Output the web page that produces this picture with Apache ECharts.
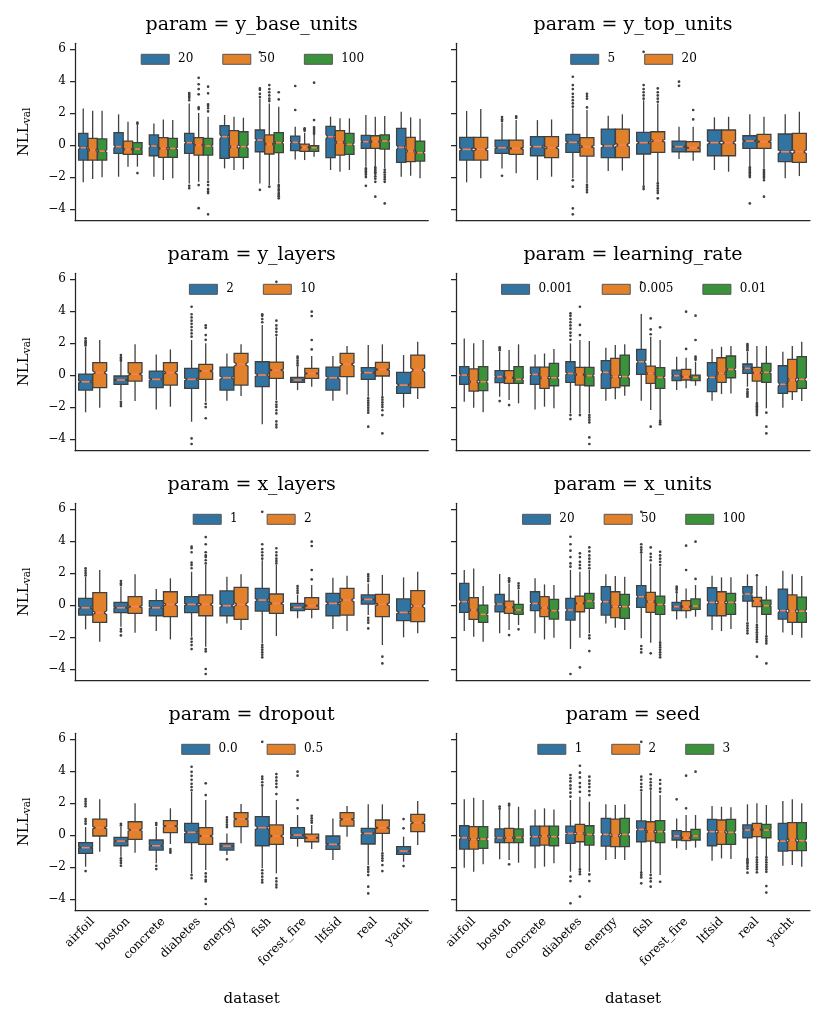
<!DOCTYPE html>
<html lang="en">
<head>
<meta charset="UTF-8">
<title>NLL by param</title>
<style>body{margin:0;background:#fff;} #main{width:831px;height:1027px;}</style>
</head>
<body>
<div id="main"></div>
<script src="https://cdn.jsdelivr.net/npm/echarts@6/dist/echarts.min.js"></script>
<script>
// ---- data (box = [min, q1, median, q3, max], flier = [datasetIndex, value]) ----
const datasets = ['airfoil', 'boston', 'concrete', 'diabetes', 'energy', 'fish', 'forest_fire', 'ltfsid', 'real', 'yacht'];
const yTicks = [-4, -2, 0, 2, 4, 6];
const params = ['y_base_units', 'y_top_units', 'y_layers', 'learning_rate', 'x_layers', 'x_units', 'dropout', 'seed'];

const yBaseUnitsGroups = ['20', '50', '100'];
const yBaseUnits20 = [[-2.33,-0.94,-0.17,0.73,2.29],[-1.98,-0.52,-0.1,0.77,1.92],[-1.98,-0.67,-0.06,0.63,1.35],[-2.4,-0.52,0.15,0.73,2.6],[-1.46,-0.83,0.52,1.21,1.88],[-2.4,-0.42,0.31,0.94,2.9],[-0.9,-0.35,0.17,0.56,1.15],[-1.56,-0.79,0.52,1.17,1.77],[-1.35,-0.21,0.21,0.6,1.88],[-1.98,-1.08,-0.15,1.04,2.08]];
const yBaseUnits50 = [[-2.13,-0.94,-0.31,0.42,2.15],[-1.35,-0.58,-0.27,0.25,1.46],[-2.19,-0.77,-0.21,0.46,1.6],[-2.3,-0.63,0.0,0.46,2.0],[-1.56,-0.77,-0.1,0.9,1.77],[-2.5,-0.56,0.06,0.63,2.6],[-0.94,-0.4,-0.15,0.06,0.77],[-1.67,-0.63,0.17,0.9,1.67],[-1.35,-0.21,0.21,0.58,1.77],[-1.92,-1.04,-0.38,0.48,1.73]];
const yBaseUnits100 = [[-2.02,-0.94,-0.38,0.38,2.15],[-1.35,-0.58,-0.25,0.15,1.25],[-2.08,-0.77,-0.21,0.42,1.56],[-2.2,-0.63,-0.06,0.42,1.77],[-1.52,-0.77,-0.1,0.83,1.71],[-2.4,-0.48,0.15,0.77,2.4],[-0.73,-0.4,-0.17,-0.04,0.63],[-1.56,-0.58,0.04,0.73,1.67],[-1.46,-0.25,0.25,0.63,1.81],[-2.08,-1.0,-0.48,0.25,1.65]];
const yBaseUnits20Out = [[3,2.8],[3,2.95],[3,3.05],[3,3.15],[3,3.25],[3,-2.55],[3,-2.7],[5,3.0],[5,3.2],[5,3.45],[5,3.55],[5,5.8],[5,-2.8],[6,2.19],[6,3.69],[8,-1.46],[8,-1.55],[8,-1.65],[8,-1.75],[8,-1.85],[8,-2.0],[8,-2.55]];
const yBaseUnits50Out = [[3,2.25],[3,2.35],[3,3.17],[3,3.5],[3,3.8],[3,4.2],[3,-2.5],[3,-3.95],[5,2.75],[5,2.9],[5,3.1],[5,3.3],[5,3.5],[5,3.75],[5,-2.6],[6,0.9],[6,0.98],[6,1.05],[8,-1.4],[8,-1.5],[8,-1.6],[8,-1.7],[8,-1.8],[8,-1.95],[8,-2.1],[8,-2.3],[8,-3.23]];
const yBaseUnits100Out = [[1,1.33],[1,1.4],[1,-1.75],[3,2.1],[3,2.3],[3,2.45],[3,2.55],[3,3.23],[3,3.65],[3,-2.3],[3,-2.5],[3,-2.75],[3,-2.9],[3,-3.0],[3,-4.33],[5,2.85],[5,3.3],[5,-2.5],[5,-2.6],[5,-2.75],[5,-2.85],[5,-3.0],[5,-3.1],[5,-3.2],[5,-3.33],[6,0.7],[6,0.8],[6,0.9],[6,1.0],[6,1.1],[6,1.56],[6,3.9],[8,-1.55],[8,-1.7],[8,-1.85],[8,-2.0],[8,-2.15],[8,-2.3],[8,-3.65]];

const yTopUnitsGroups = ['5', '20'];
const yTopUnits5 = [[-2.33,-0.94,-0.27,0.48,2.13],[-1.46,-0.52,-0.17,0.31,1.4],[-2.19,-0.67,-0.1,0.52,1.56],[-2.08,-0.46,0.17,0.67,2.29],[-1.63,-0.79,-0.06,1.0,1.83],[-2.54,-0.56,0.15,0.79,2.8],[-0.88,-0.42,-0.1,0.25,1.15],[-1.56,-0.67,0.15,0.94,1.73],[-1.35,-0.21,0.25,0.58,1.92],[-2.08,-1.04,-0.42,0.69,1.92]];
const yTopUnits20 = [[-2.08,-0.94,-0.27,0.48,2.25],[-1.77,-0.58,-0.21,0.31,1.56],[-1.98,-0.79,-0.17,0.52,1.6],[-2.4,-0.69,-0.1,0.46,2.19],[-1.6,-0.79,0.0,1.0,1.92],[-2.4,-0.46,0.27,0.83,2.6],[-0.98,-0.42,-0.17,0.21,1.15],[-1.67,-0.67,0.15,0.94,1.77],[-1.46,-0.21,0.21,0.67,1.77],[-1.94,-1.08,-0.42,0.73,2.08]];
const yTopUnits5Out = [[1,1.5],[1,1.6],[1,1.75],[1,-1.92],[3,2.4],[3,2.6],[3,2.8],[3,3.0],[3,3.2],[3,3.5],[3,3.75],[3,4.27],[3,-2.2],[3,-2.6],[3,-3.96],[3,-4.33],[5,2.9],[5,3.1],[5,3.3],[5,3.5],[5,3.75],[5,5.83],[5,-2.6],[5,-2.75],[6,3.7],[6,3.96],[8,-1.4],[8,-1.5],[8,-1.6],[8,-1.7],[8,-1.8],[8,-1.9],[8,-2.0],[8,-3.65]];
const yTopUnits20Out = [[1,1.7],[1,1.8],[3,2.35],[3,2.9],[3,3.05],[3,3.2],[3,-2.5],[3,-2.65],[3,-2.8],[3,-2.95],[5,2.7],[5,2.9],[5,3.1],[5,3.3],[5,3.54],[5,-2.4],[5,-2.55],[5,-2.7],[5,-2.85],[5,-3.0],[5,-3.33],[6,1.6],[6,2.19],[8,-1.55],[8,-1.65],[8,-1.75],[8,-1.85],[8,-1.95],[8,-2.05],[8,-2.2],[8,-3.23]];

const yLayersGroups = ['2', '10'];
const yLayers2 = [[-2.33,-0.94,-0.42,0.06,1.75],[-1.56,-0.58,-0.31,-0.06,0.83],[-2.15,-0.79,-0.27,0.25,1.29],[-2.92,-0.83,-0.27,0.42,2.19],[-1.6,-0.94,-0.17,0.5,1.35],[-3.08,-0.73,0.0,0.83,3.13],[-0.94,-0.46,-0.31,-0.15,0.52],[-1.6,-0.94,-0.17,0.5,1.19],[-1.35,-0.27,0.15,0.46,1.88],[-2.04,-1.15,-0.63,0.17,1.25]];
const yLayers10 = [[-2.04,-0.79,0.15,0.77,2.19],[-1.63,-0.38,0.06,0.77,1.92],[-1.98,-0.63,0.15,0.77,1.6],[-1.67,-0.27,0.25,0.67,1.98],[-1.31,-0.63,0.67,1.35,1.92],[-1.56,-0.21,0.31,0.81,2.4],[-0.73,-0.21,0.1,0.42,1.19],[-1.21,-0.1,0.67,1.35,1.81],[-1.31,-0.06,0.35,0.79,1.92],[-1.5,-0.79,0.31,1.25,2.08]];
const yLayers2Out = [[0,1.85],[0,1.95],[0,2.05],[0,2.15],[0,2.3],[1,0.9],[1,1.0],[1,1.1],[1,1.25],[1,-1.67],[1,-1.8],[1,-1.94],[3,2.4],[3,2.6],[3,2.8],[3,3.0],[3,3.2],[3,3.4],[3,3.6],[3,3.8],[3,4.27],[3,-3.96],[3,-4.31],[5,3.3],[5,3.5],[5,3.7],[5,3.8],[6,0.6],[6,0.75],[6,0.9],[6,1.05],[6,1.15],[8,-1.45],[8,-1.6],[8,-1.75],[8,-1.9],[8,-2.05],[8,-2.2],[8,-2.35],[8,-3.23]];
const yLayers10Out = [[3,2.2],[3,2.5],[3,2.95],[3,3.1],[3,-1.8],[3,-2.0],[3,-2.7],[5,2.5],[5,2.7],[5,2.9],[5,3.1],[5,3.4],[5,5.83],[5,-1.67],[5,-1.85],[5,-2.0],[5,-2.2],[5,-2.4],[5,-2.9],[5,-3.1],[5,-3.27],[6,1.6],[6,2.19],[6,3.69],[6,3.96],[8,-1.4],[8,-1.55],[8,-1.7],[8,-1.85],[8,-2.0],[8,-2.2],[8,-2.5],[8,-3.65]];

const learningRateGroups = ['0.001', '0.005', '0.01'];
const learningRate001 = [[-1.67,-0.58,0.0,0.52,2.29],[-1.35,-0.48,-0.1,0.27,1.46],[-2.15,-0.58,0.04,0.5,1.29],[-2.4,-0.46,0.1,0.83,1.98],[-1.6,-0.83,0.17,0.9,1.71],[-1.6,0.04,0.83,1.6,3.81],[-0.94,-0.35,-0.04,0.31,1.15],[-1.6,-1.04,-0.15,0.77,1.63],[-0.73,0.1,0.42,0.69,1.46],[-2.04,-1.15,-0.58,0.58,1.46]];
const learningRate005 = [[-2.04,-1.0,-0.42,0.38,1.98],[-1.56,-0.52,-0.17,0.27,1.56],[-1.98,-0.83,-0.17,0.5,1.35],[-2.4,-0.63,0.04,0.48,2.19],[-1.52,-0.79,-0.1,1.04,1.88],[-2.19,-0.52,0.1,0.56,2.4],[-0.83,-0.31,-0.1,0.35,1.08],[-1.19,-0.46,0.1,1.08,1.77],[-1.67,-0.38,0.15,0.48,1.81],[-1.56,-1.04,-0.31,0.98,1.81]];
const learningRate01 = [[-2.33,-0.98,-0.42,0.52,2.19],[-1.77,-0.52,-0.27,0.52,1.92],[-2.08,-0.67,-0.17,0.73,1.63],[-2.4,-0.67,-0.04,0.48,2.13],[-1.29,-0.67,-0.1,1.25,1.92],[-2.77,-0.83,-0.15,0.46,2.19],[-0.67,-0.35,-0.15,0.0,0.83],[-1.15,-0.17,0.35,1.19,1.81],[-2.08,-0.46,0.17,0.73,1.81],[-1.63,-0.83,-0.27,1.15,2.08]];
const learningRate001Out = [[1,1.55],[1,1.65],[1,1.73],[1,-1.63],[3,2.2],[3,2.45],[3,2.65],[3,2.9],[3,3.1],[3,3.3],[3,3.5],[3,3.7],[3,3.85],[3,-2.5],[3,-2.75],[5,5.8],[8,1.55],[8,1.65],[8,1.75],[8,1.85],[8,1.94],[8,-0.9],[8,-1.05],[8,-1.15],[8,-1.25],[8,-1.35]];
const learningRate005Out = [[1,-1.88],[3,2.5],[3,3.13],[3,4.27],[3,-2.5],[5,2.55],[5,2.85],[5,3.54],[5,-3.23],[6,1.63],[6,3.96],[8,-1.75],[8,-1.85],[8,-1.95],[8,-2.05],[8,-2.15],[8,-2.25],[8,-2.35],[8,-2.5]];
const learningRate01Out = [[3,-2.5],[3,-2.65],[3,-2.8],[3,-2.96],[3,-3.9],[3,-4.31],[5,2.98],[5,-2.85],[5,-2.95],[5,-3.08],[6,0.95],[6,1.05],[6,1.15],[6,2.19],[6,3.71],[8,-2.35],[8,-3.23],[8,-3.65]];

const xLayersGroups = ['1', '2'];
const xLayers1 = [[-1.52,-0.63,-0.17,0.42,1.75],[-1.35,-0.48,-0.17,0.17,1.15],[-1.63,-0.67,-0.17,0.27,1.0],[-1.98,-0.48,0.04,0.52,2.08],[-1.15,-0.67,-0.04,0.88,1.77],[-2.4,-0.38,0.31,1.04,2.8],[-0.83,-0.35,-0.15,0.1,0.63],[-1.5,-0.67,0.1,0.73,1.71],[-0.63,0.06,0.35,0.63,1.35],[-2.02,-0.98,-0.46,0.38,1.73]];
const xLayers2 = [[-2.29,-1.08,-0.48,0.77,2.19],[-1.73,-0.52,-0.1,0.52,1.92],[-2.15,-0.73,0.04,0.83,1.67],[-2.6,-0.67,0.04,0.63,2.5],[-1.56,-0.9,0.04,1.1,1.92],[-1.94,-0.52,0.1,0.69,2.5],[-0.83,-0.27,-0.04,0.46,1.25],[-1.63,-0.63,0.31,1.04,1.83],[-2.5,-0.73,0.04,0.67,1.88],[-1.77,-1.04,-0.06,0.9,2.08]];
const xLayers1Out = [[0,1.85],[0,2.0],[0,2.15],[0,2.3],[1,1.25],[1,1.35],[1,1.5],[1,-1.5],[1,-1.65],[1,-1.9],[3,2.3],[3,2.5],[3,2.65],[3,3.3],[3,3.55],[3,3.65],[3,-2.1],[3,-2.3],[3,-2.5],[3,-2.75],[5,2.9],[5,3.1],[5,3.3],[5,3.5],[5,3.8],[5,5.83],[5,-2.5],[5,-2.65],[5,-2.8],[5,-2.95],[5,-3.1],[5,-3.27],[6,0.75],[6,0.9],[6,1.05],[6,1.19],[8,1.5],[8,1.65],[8,1.8],[8,1.92],[8,-0.8],[8,-0.95],[8,-1.1],[8,-1.46]];
const xLayers2Out = [[3,2.6],[3,2.8],[3,3.0],[3,3.1],[3,3.3],[3,3.8],[3,4.25],[3,-2.75],[3,-2.9],[3,-4.0],[3,-4.31],[5,2.6],[5,2.75],[5,2.9],[5,3.1],[5,3.3],[5,3.55],[6,1.6],[6,2.19],[6,3.69],[6,3.96],[8,-3.23],[8,-3.65]];

const xUnitsGroups = ['20', '50', '100'];
const xUnits20 = [[-1.63,-0.46,0.21,1.35,2.19],[-1.77,-0.42,0.06,0.67,1.94],[-1.77,-0.35,0.1,0.83,1.67],[-2.75,-0.94,-0.31,0.42,2.19],[-1.15,-0.63,0.21,1.15,1.92],[-2.08,-0.15,0.52,1.21,3.23],[-0.9,-0.35,-0.1,0.17,0.73],[-1.56,-0.67,0.17,1.08,1.83],[-1.04,0.25,0.69,1.15,1.92],[-1.71,-0.88,-0.35,1.0,2.15]];
const xUnits50 = [[-1.98,-0.9,-0.31,0.46,2.29],[-1.56,-0.52,-0.15,0.25,1.35],[-2.15,-0.73,-0.17,0.52,1.29],[-2.04,-0.42,0.1,0.56,2.08],[-1.42,-0.79,-0.1,0.83,1.81],[-2.35,-0.46,0.21,0.79,2.6],[-0.83,-0.35,-0.1,0.27,1.04],[-1.63,-0.67,0.17,0.83,1.73],[-1.15,-0.1,0.25,0.48,1.77],[-1.88,-1.08,-0.38,0.63,1.92]];
const xUnits100 = [[-2.29,-1.08,-0.58,0.0,1.19],[-1.25,-0.58,-0.31,0.04,0.95],[-2.04,-0.88,-0.35,0.35,1.25],[-1.77,-0.21,0.25,0.73,2.19],[-1.56,-0.83,-0.1,0.67,1.77],[-2.29,-0.58,0.04,0.56,2.4],[-0.73,-0.27,-0.06,0.38,1.25],[-1.5,-0.58,0.17,0.73,1.73],[-1.88,-0.58,-0.04,0.31,1.19],[-2.04,-1.08,-0.38,0.5,1.81]];
const xUnits20Out = [[3,2.4],[3,2.6],[3,3.0],[3,3.4],[3,3.8],[3,4.27],[3,-4.31],[5,3.3],[5,3.45],[5,3.6],[5,3.8],[5,5.83],[5,-2.56],[5,-2.75],[5,-2.96],[6,0.8],[6,0.95],[6,1.05],[6,1.15],[8,-1.15],[8,-1.3],[8,-1.45],[8,-1.6],[8,-1.77]];
const xUnits50Out = [[1,1.45],[1,1.55],[1,1.67],[1,-1.88],[3,2.3],[3,2.5],[3,2.7],[3,3.0],[3,3.23],[3,-3.9],[5,2.8],[5,3.0],[5,3.2],[5,3.6],[5,-3.02],[6,2.19],[6,3.71],[8,1.85],[8,-1.25],[8,-1.4],[8,-1.55],[8,-1.7],[8,-1.85],[8,-2.0],[8,-2.15],[8,-2.3],[8,-3.23]];
const xUnits100Out = [[1,1.05],[1,1.2],[1,1.35],[1,-1.52],[3,2.3],[3,2.5],[3,2.7],[3,2.9],[3,3.1],[3,3.35],[3,3.6],[3,-1.9],[3,-2.08],[3,-2.88],[5,2.5],[5,2.7],[5,2.9],[5,3.1],[5,3.33],[5,-2.35],[5,-2.5],[5,-2.65],[5,-2.8],[5,-2.95],[5,-3.1],[5,-3.27],[6,1.63],[6,3.96],[8,-1.95],[8,-2.1],[8,-2.25],[8,-2.4],[8,-3.65]];

const dropoutGroups = ['0.0', '0.5'];
const dropout00 = [[-1.98,-1.15,-0.79,-0.48,0.5],[-1.35,-0.67,-0.38,-0.15,0.5],[-1.77,-0.94,-0.67,-0.31,0.5],[-2.4,-0.48,0.17,0.73,2.7],[-1.25,-0.94,-0.69,-0.52,0.1],[-2.08,-0.67,0.46,1.15,3.02],[-0.73,-0.21,0.0,0.46,1.25],[-1.56,-0.9,-0.58,-0.06,1.04],[-1.88,-0.56,0.1,0.42,1.92],[-1.67,-1.21,-1.0,-0.73,-0.1]];
const dropout05 = [[-1.04,-0.06,0.46,1.0,2.23],[-1.1,-0.27,0.31,0.83,1.98],[-0.56,0.15,0.56,0.9,1.67],[-2.19,-0.58,-0.06,0.46,2.19],[-0.52,0.52,1.0,1.4,1.94],[-2.4,-0.58,-0.06,0.63,2.19],[-0.88,-0.42,-0.17,0.06,0.63],[-0.1,0.56,0.98,1.4,1.81],[-1.04,0.1,0.46,0.94,1.92],[-0.63,0.21,0.77,1.29,2.13]];
const dropout00Out = [[0,0.7],[0,0.85],[0,1.0],[0,1.8],[0,1.95],[0,2.1],[0,2.25],[0,-2.25],[1,0.6],[1,0.7],[1,-1.46],[1,-1.6],[1,-1.75],[1,-1.92],[2,0.62],[2,0.75],[2,-1.92],[2,-2.13],[3,2.8],[3,3.0],[3,3.2],[3,3.45],[3,3.7],[3,3.95],[3,4.27],[3,-2.5],[3,-2.7],[4,0.5],[4,0.65],[4,0.8],[4,0.95],[4,1.1],[4,-1.52],[5,3.1],[5,3.3],[5,3.5],[5,3.65],[5,5.83],[5,-2.2],[5,-2.4],[5,-2.6],[5,-2.8],[5,-2.96],[6,1.67],[6,2.19],[6,3.71],[6,3.96],[8,-2.0],[8,-2.15],[8,-2.3],[8,-2.5],[8,-3.23],[8,-3.65],[9,0.42],[9,1.0],[9,-1.94]];
const dropout05Out = [[2,-0.88],[2,-1.0],[2,-1.1],[3,2.5],[3,3.23],[3,-2.4],[3,-2.6],[3,-2.8],[3,-2.9],[3,-4.0],[3,-4.31],[5,2.56],[5,3.0],[5,3.2],[5,3.4],[5,3.6],[5,3.81],[5,-2.7],[5,-2.9],[5,-3.1],[5,-3.27],[6,0.77],[6,0.9],[6,1.05],[6,1.2],[8,-1.15],[8,-1.3],[8,-1.45],[8,-1.6],[8,-1.88],[8,-2.25]];

const seedGroups = ['1', '2', '3'];
const seed1 = [[-2.04,-0.88,-0.17,0.58,2.23],[-1.52,-0.48,-0.17,0.38,1.56],[-2.08,-0.67,-0.1,0.56,1.6],[-2.29,-0.52,0.1,0.56,2.19],[-1.56,-0.69,0.04,1.04,1.92],[-2.29,-0.42,0.35,0.88,2.7],[-0.83,-0.31,-0.06,0.27,1.04],[-1.6,-0.67,0.21,0.98,1.81],[-1.46,-0.17,0.31,0.63,1.92],[-1.92,-1.0,-0.38,0.73,2.13]];
const seed2 = [[-2.29,-0.88,-0.27,0.52,2.33],[-1.56,-0.48,-0.17,0.42,1.77],[-1.98,-0.63,-0.06,0.56,1.67],[-2.08,-0.42,0.1,0.67,2.4],[-1.5,-0.73,-0.04,1.0,1.88],[-2.4,-0.38,0.21,0.83,2.8],[-0.94,-0.35,-0.17,0.21,1.25],[-1.46,-0.58,0.21,0.94,1.77],[-1.29,-0.1,0.35,0.73,1.98],[-1.88,-0.98,-0.31,0.77,2.23]];
const seed3 = [[-1.83,-0.83,-0.25,0.52,2.19],[-1.73,-0.48,-0.15,0.38,1.77],[-1.77,-0.67,-0.1,0.56,1.6],[-2.29,-0.63,0.04,0.58,2.08],[-1.56,-0.73,0.04,1.04,1.92],[-2.5,-0.48,0.21,0.9,2.5],[-0.79,-0.31,-0.06,0.35,1.25],[-1.5,-0.58,0.17,0.98,1.73],[-1.35,-0.17,0.31,0.67,1.88],[-1.98,-0.98,-0.35,0.77,1.98]];
const seed1Out = [[1,1.65],[1,1.78],[3,2.4],[3,2.65],[3,2.9],[3,3.1],[3,3.35],[3,3.55],[3,3.75],[3,-2.6],[3,-2.88],[3,-4.27],[5,2.8],[5,3.0],[5,3.2],[5,3.45],[5,3.65],[5,5.83],[5,-2.35],[5,-2.5],[5,-2.65],[5,-3.02],[6,2.23],[8,-1.5],[8,-1.6],[8,-1.7],[8,-1.8],[8,-1.95],[8,-2.1],[8,-2.35]];
const seed2Out = [[1,1.85],[1,1.95],[1,-1.83],[3,2.7],[3,3.0],[3,3.25],[3,3.6],[3,3.9],[3,4.33],[3,-2.15],[3,-2.3],[3,-2.45],[3,-3.85],[5,2.9],[5,3.1],[5,3.3],[5,3.5],[5,3.8],[5,-2.5],[5,-2.7],[5,-2.9],[5,-3.23],[6,1.67],[6,3.71],[8,-1.4],[8,-1.55],[8,-1.7],[8,-1.85],[8,-2.0],[8,-2.15],[8,-2.33]];
const seed3Out = [[3,2.5],[3,2.75],[3,3.0],[3,3.2],[3,3.4],[3,3.65],[3,-2.46],[3,-2.88],[5,2.7],[5,2.9],[5,3.2],[5,3.44],[5,-2.92],[6,3.96],[8,-1.4],[8,-1.55],[8,-1.7],[8,-1.85],[8,-2.0],[8,-2.15],[8,-2.3],[8,-3.19],[8,-3.6]];

// ---- layout / style ----
const palette = ['#3274a1', '#e1812c', '#3a923a'];
const edgeColor = '#404040';
const medianColor = '#ff7f50';
const axisColor = '#262626';
const font = '"DejaVu Serif"';
const sampleCount = 550;   // only used for notch depth
const colLeft = [75, 456];
const colWidth = [353.3, 354];
const rowTop = [43.3, 273.3, 503.3, 733.3];
const rowHeight = 177.4;

const panels = [
    {groups: yBaseUnitsGroups, boxes: [yBaseUnits20, yBaseUnits50, yBaseUnits100], fliers: [yBaseUnits20Out, yBaseUnits50Out, yBaseUnits100Out]},
    {groups: yTopUnitsGroups, boxes: [yTopUnits5, yTopUnits20], fliers: [yTopUnits5Out, yTopUnits20Out]},
    {groups: yLayersGroups, boxes: [yLayers2, yLayers10], fliers: [yLayers2Out, yLayers10Out]},
    {groups: learningRateGroups, boxes: [learningRate001, learningRate005, learningRate01], fliers: [learningRate001Out, learningRate005Out, learningRate01Out]},
    {groups: xLayersGroups, boxes: [xLayers1, xLayers2], fliers: [xLayers1Out, xLayers2Out]},
    {groups: xUnitsGroups, boxes: [xUnits20, xUnits50, xUnits100], fliers: [xUnits20Out, xUnits50Out, xUnits100Out]},
    {groups: dropoutGroups, boxes: [dropout00, dropout05], fliers: [dropout00Out, dropout05Out]},
    {groups: seedGroups, boxes: [seed1, seed2, seed3], fliers: [seed1Out, seed2Out, seed3Out]}
];

const measureCtx = document.createElement('canvas').getContext('2d');
function textWidth(str, size) {
    measureCtx.font = size + 'px ' + font;
    return measureCtx.measureText(str).width;
}

function boxRender(n, gi) {
    return function (params, api) {
        const cat = api.value(0);
        const w = api.size([1, 0])[0] * 0.8 / n;
        const cx = api.coord([cat, 0])[0] + (gi - (n - 1) / 2) * w;
        const bw = w * 0.98;
        const y = v => api.coord([cat, v])[1];
        const mn = api.value(1), q1 = api.value(2), med = api.value(3), q3 = api.value(4), mx = api.value(5);
        const notch = 1.57 * (q3 - q1) / Math.sqrt(sampleCount);
        const l = cx - bw / 2, r = cx + bw / 2, nl = cx - bw * 0.3, nr = cx + bw * 0.3;
        const pts = [[l, y(q1)], [r, y(q1)], [r, y(med - notch)], [nr, y(med)], [r, y(med + notch)],
            [r, y(q3)], [l, y(q3)], [l, y(med + notch)], [nl, y(med)], [l, y(med - notch)]];
        const ln = {stroke: edgeColor, lineWidth: 1.3};
        return {
            type: 'group',
            children: [
                {type: 'line', shape: {x1: cx, y1: y(mn), x2: cx, y2: y(q1)}, style: ln},
                {type: 'line', shape: {x1: cx, y1: y(q3), x2: cx, y2: y(mx)}, style: ln},
                {type: 'polygon', shape: {points: pts}, style: {fill: palette[gi], stroke: edgeColor, lineWidth: 1.3}},
                {type: 'line', shape: {x1: nl, y1: y(med), x2: nr, y2: y(med)}, style: {stroke: medianColor, lineWidth: 1.6}}
            ]
        };
    };
}

function flierRender(n, gi) {
    return function (params, api) {
        const cat = api.value(0);
        const w = api.size([1, 0])[0] * 0.8 / n;
        const p = api.coord([cat, api.value(1)]);
        return {type: 'circle', shape: {cx: p[0] + (gi - (n - 1) / 2) * w, cy: p[1], r: 1.35}, style: {fill: edgeColor}};
    };
}

const grid = [], xAxis = [], yAxis = [], series = [], legend = [], title = [];

panels.forEach((panel, p) => {
    const col = p % 2, row = Math.floor(p / 2);
    const left = colLeft[col], top = rowTop[row], width = colWidth[col];
    const n = panel.groups.length;
    const bottomRow = row === 3;
    grid.push({left: left, top: top, width: width, height: rowHeight});
    title.push({
        text: 'param = ' + params[p], left: left + width / 2, top: top - 28, textAlign: 'center', padding: 0,
        textStyle: {fontFamily: font, fontSize: 19, fontWeight: 'normal', color: '#000'}
    });
    xAxis.push({
        type: 'category', gridIndex: p, data: datasets, boundaryGap: true,
        axisLine: {onZero: false, lineStyle: {color: axisColor, width: 1.25}},
        axisTick: {alignWithLabel: true, interval: 0, length: 5, lineStyle: {color: axisColor, width: 1.25}},
        axisLabel: {show: bottomRow, interval: 0, rotate: 45, margin: 9, fontFamily: font, fontSize: 12, color: '#000'},
        name: bottomRow ? 'dataset' : '', nameLocation: 'middle', nameGap: 81,
        nameTextStyle: {fontFamily: font, fontSize: 15, color: '#000'}
    });
    yAxis.push({
        type: 'value', gridIndex: p, min: -4.73, max: 6.36,
        splitLine: {show: false},
        axisLine: {show: true, lineStyle: {color: axisColor, width: 1.25}},
        axisTick: {show: true, length: 5, customValues: yTicks, lineStyle: {color: axisColor, width: 1.25}},
        axisLabel: {show: col === 0, customValues: yTicks, margin: 9, fontFamily: font, fontSize: 12, color: '#000',
            formatter: v => String(v).replace('-', '\u2212')},
        name: col === 0 ? '{m|NLL}{s|val}' : '', nameLocation: 'middle', nameGap: 42,
        nameTextStyle: {
            color: '#000',
            rich: {
                m: {fontFamily: font, fontSize: 15, color: '#000'},
                s: {fontFamily: font, fontSize: 10.5, color: '#000', padding: [7, 0, 0, 0]}
            }
        }
    });
    const names = [];
    panel.groups.forEach((g, gi) => {
        const name = params[p] + '|' + g;
        names.push(name);
        series.push({
            type: 'custom', name: name, xAxisIndex: p, yAxisIndex: p,
            itemStyle: {color: palette[gi]},
            renderItem: boxRender(n, gi),
            encode: {x: 0, y: [1, 2, 3, 4, 5]},
            data: panel.boxes[gi].map((b, i) => [i].concat(b))
        });
        series.push({
            type: 'custom', name: name, xAxisIndex: p, yAxisIndex: p,
            itemStyle: {color: palette[gi]},
            renderItem: flierRender(n, gi),
            encode: {x: 0, y: 1},
            data: panel.fliers[gi]
        });
    });
    const itemW = 28, gap = 29, legendFont = 12;
    let lw = 0;
    panel.groups.forEach((g, gi) => {
        lw += itemW + 5 + textWidth(' ' + g, legendFont) + (gi > 0 ? gap : 0);
    });
    legend.push({
        data: names, left: left + width / 2 - lw / 2, top: top + 10, padding: 0,
        icon: 'rect', itemWidth: itemW, itemHeight: 10, itemGap: gap, selectedMode: false,
        itemStyle: {borderColor: '#555', borderWidth: 1},
        formatter: nm => ' ' + nm.split('|')[1],
        textStyle: {fontFamily: font, fontSize: legendFont, color: '#000'}
    });
});

const chart = echarts.init(document.getElementById('main'), null, {renderer: 'canvas'});
chart.setOption({
    animation: false,
    backgroundColor: '#fff',
    title: title,
    legend: legend,
    grid: grid,
    xAxis: xAxis,
    yAxis: yAxis,
    series: series
});
</script>
</body>
</html>
